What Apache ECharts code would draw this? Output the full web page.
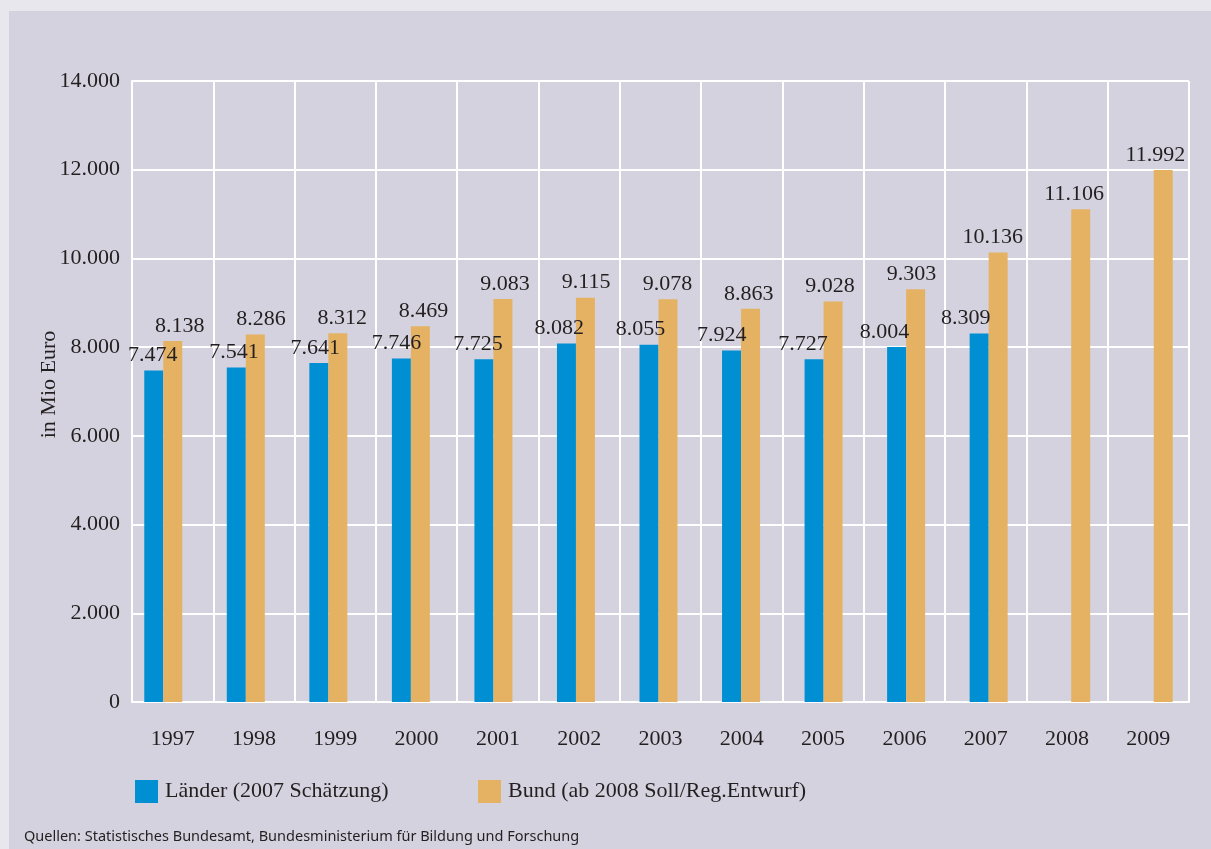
<!DOCTYPE html>
<html>
<head>
<meta charset="utf-8">
<script src="https://cdn.jsdelivr.net/npm/echarts@6/dist/echarts.min.js"></script>
<style>
html,body{margin:0;padding:0;background:#e8e7ee;}
#chart{width:1211px;height:849px;}
</style>
</head>
<body>
<div id="chart"></div>
<script>
const years = ['1997','1998','1999','2000','2001','2002','2003','2004','2005','2006','2007','2008','2009'];
const laender = [7474, 7541, 7641, 7746, 7725, 8082, 8055, 7924, 7727, 8004, 8309, null, null];
const bund = [8138, 8286, 8312, 8469, 9083, 9115, 9078, 8863, 9028, 9303, 10136, 11106, 11992];
const yMin = 0, yMax = 14000, yStep = 2000;
const nameLaender = 'Länder (2007 Schätzung)';
const nameBund = 'Bund (ab 2008 Soll/Reg.Entwurf)';
const yAxisName = 'in Mio Euro';
const sourceText = 'Quellen: Statistisches Bundesamt, Bundesministerium für Bildung und Forschung';

const SERIF = 'Liberation Serif';
const FS = 22;
const TXT = '#231f20';
const BLUE = '#008fd3';
const ORANGE = '#e5b264';
const fmt = v => (v == null ? '' : String(Math.round(v)).replace(/\B(?=(\d{3})+(?!\d))/g, '.'));

const chart = echarts.init(document.getElementById('chart'), null, {renderer: 'canvas'});
const labelBase = {show: true, position: 'top', distance: 4, fontFamily: SERIF, fontSize: FS, color: TXT,
  formatter: p => fmt(p.value), offset: [-6.5, 0]};

chart.setOption({
  backgroundColor: '#e8e7ee',
  animation: false,
  graphic: {elements: [
    {type: 'rect', z: -100, silent: true, shape: {x: 9, y: 11, width: 1202, height: 838}, style: {fill: '#d4d2de'}},
    {type: 'text', z: 10, left: 24, top: 829, style: {text: sourceText, font: '14.5px "Noto Sans"', fill: TXT}}
  ]},
  legend: [
    {left: 130, top: 775, itemWidth: 23, itemHeight: 23, icon: 'rect', data: [nameLaender],
     textStyle: {fontFamily: SERIF, fontSize: FS, color: TXT, padding: [0, 0, 0, 2]}},
    {left: 473, top: 775, itemWidth: 23, itemHeight: 23, icon: 'rect', data: [nameBund],
     textStyle: {fontFamily: SERIF, fontSize: FS, color: TXT, padding: [0, 0, 0, 2]}}
  ],
  grid: [
    {left: 132, right: 22, top: 81, bottom: 147},
    {left: 122, right: 16, top: 81, bottom: 147}
  ],
  xAxis: [
    {type: 'category', gridIndex: 0, data: years, boundaryGap: true,
     axisLine: {show: true, lineStyle: {color: '#ffffff', width: 2}},
     axisTick: {show: false},
     splitLine: {show: true, lineStyle: {color: '#ffffff', width: 2}},
     axisLabel: {margin: 26, fontFamily: SERIF, fontSize: FS, color: TXT}},
    {type: 'category', gridIndex: 1, data: years, boundaryGap: true, show: false}
  ],
  yAxis: [
    {type: 'value', gridIndex: 0, min: yMin, max: yMax, interval: yStep,
     axisLine: {show: true, lineStyle: {color: '#ffffff', width: 2}},
     axisTick: {show: false},
     splitLine: {show: true, lineStyle: {color: '#ffffff', width: 2}},
     axisLabel: {margin: 12, fontFamily: SERIF, fontSize: FS, color: TXT, formatter: v => fmt(v)},
     name: yAxisName, nameLocation: 'middle', nameGap: 72, nameRotate: 90, nameMoveOverlap: false,
     nameTextStyle: {fontFamily: SERIF, fontSize: FS, color: TXT, padding: [0, 0, 0, 14]}},
    {type: 'value', gridIndex: 1, min: yMin, max: yMax, interval: yStep, show: false}
  ],
  series: [
    {name: nameLaender, type: 'bar', xAxisIndex: 1, yAxisIndex: 1, data: laender,
     barWidth: 19, barGap: '0%', itemStyle: {color: BLUE}},
    {name: nameBund, type: 'bar', xAxisIndex: 1, yAxisIndex: 1, data: bund,
     barWidth: 19, barGap: '0%', itemStyle: {color: ORANGE}},
    {name: 'lblL', type: 'bar', xAxisIndex: 0, yAxisIndex: 0, data: laender, silent: true,
     barWidth: 27, barGap: '0%', itemStyle: {color: 'rgba(0,0,0,0)'}, label: labelBase, z: 5},
    {name: 'lblB', type: 'bar', xAxisIndex: 0, yAxisIndex: 0, data: bund, silent: true,
     barWidth: 27, barGap: '0%', itemStyle: {color: 'rgba(0,0,0,0)'}, label: labelBase, z: 5}
  ]
});
</script>
</body>
</html>
